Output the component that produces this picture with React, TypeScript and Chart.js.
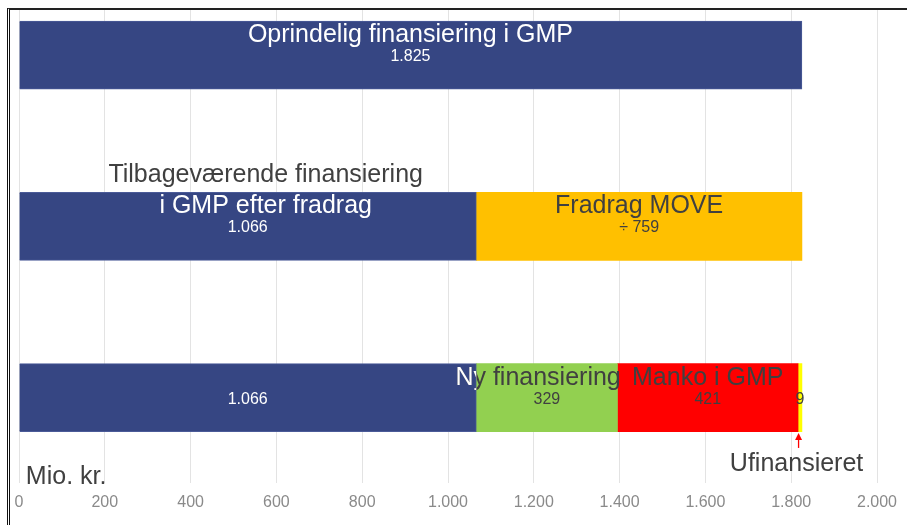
import React, { useEffect, useRef } from "react";
import { Chart, registerables } from "chart.js";

Chart.register(...registerables);

// ---- data ----
const categories = ["Oprindelig finansiering i GMP", "Efter fradrag", "Ny finansiering"];
const rowIndex = [0, 1, 2];
const gmpFinancing: (number | null)[] = [1825, 1066, 1066];
const moveDeduction: (number | null)[] = [null, 759, null];
const newFinancing: (number | null)[] = [null, null, 329];
const shortfall: (number | null)[] = [null, null, 421];
const unfinanced: (number | null)[] = [null, null, 9];
const xTicks = [0, 200, 400, 600, 800, 1000, 1200, 1400, 1600, 1800, 2000];

const NAVY = "#364683";
const ORANGE = "#FFC000";
const GREEN = "#92D050";
const RED = "#FF0000";
const YELLOW = "#FFFF00";
const DARK = "#404040";
const FONT = '"Liberation Sans", Arial, Helvetica, sans-serif';

const fmt = (v: number) => {
  const s = Math.round(Math.abs(v)).toString();
  return s.replace(/\B(?=(\d{3})+(?!\d))/g, ".");
};

const toPoints = (arr: (number | null)[]) =>
  rowIndex.map((r, i) => ({ x: arr[i], y: r }));

const labelPlugin = {
  id: "labels",
  afterDatasetsDraw(chart: any) {
    const { ctx, scales } = chart;
    const xs = scales.x;
    const ys = scales.y;
    const px = (v: number) => xs.getPixelForValue(v);
    const py = (v: number) => ys.getPixelForValue(v);
    const text = (t: string, x: number, y: number, size: number, color: string, align: CanvasTextAlign = "center") => {
      ctx.save();
      ctx.font = `${size}px ${FONT}`;
      ctx.fillStyle = color;
      ctx.textAlign = align;
      ctx.textBaseline = "alphabetic";
      ctx.fillText(t, x, y);
      ctx.restore();
    };
    const mid = (a: number, b: number) => (px(a) + px(b)) / 2;
    const T = 25;
    const V = 16;

    // Row 0
    const y0 = py(rowIndex[0]);
    text(categories[0], mid(0, gmpFinancing[0] as number), y0 - 13, T, "#ffffff");
    text(fmt(gmpFinancing[0] as number), mid(0, gmpFinancing[0] as number), y0 + 6, V, "#ffffff");

    // Row 1
    const y1 = py(rowIndex[1]);
    const b1 = gmpFinancing[1] as number;
    const m1 = moveDeduction[1] as number;
    text("Tilbageværende finansiering", px(575), y1 - 44, T, DARK);
    text("i GMP efter fradrag", px(575), y1 - 13, T, "#ffffff");
    text(fmt(b1), mid(0, b1), y1 + 6, V, "#ffffff");
    text("Fradrag MOVE", mid(b1, b1 + m1), y1 - 13, T, DARK);
    text("÷ " + fmt(m1), mid(b1, b1 + m1), y1 + 6, V, DARK);

    // Row 2
    const y2 = py(rowIndex[2]);
    const b2 = gmpFinancing[2] as number;
    const n2 = newFinancing[2] as number;
    const s2 = shortfall[2] as number;
    const u2 = unfinanced[2] as number;
    text(fmt(b2), mid(0, b2), y2 + 6, V, "#ffffff");
    // "Ny finansiering": dark, white where it overlaps the navy bar
    const nyX = px(1210);
    text("Ny finansiering", nyX, y2 - 13, T, DARK);
    ctx.save();
    ctx.beginPath();
    ctx.rect(px(0), y2 - 40, px(b2) - px(0), 60);
    ctx.clip();
    text("Ny finansiering", nyX, y2 - 13, T, "#ffffff");
    ctx.restore();
    text(fmt(n2), mid(b2, b2 + n2), y2 + 6, V, DARK);
    text("Manko i GMP", mid(b2 + n2, b2 + n2 + s2), y2 - 13, T, DARK);
    text(fmt(s2), mid(b2 + n2, b2 + n2 + s2), y2 + 6, V, DARK);
    const endS = b2 + n2 + s2;
    text(fmt(u2), mid(endS, endS + u2), y2 + 6, V, DARK);

    // arrow to unfinanced part
    const ax = px(endS) + 0.5;
    const tipY = py(rowIndex[2] + 0.206);
    ctx.save();
    ctx.strokeStyle = RED;
    ctx.fillStyle = RED;
    ctx.lineWidth = 1.3;
    ctx.beginPath();
    ctx.moveTo(ax, tipY + 15);
    ctx.lineTo(ax, tipY + 4);
    ctx.stroke();
    ctx.beginPath();
    ctx.moveTo(ax, tipY);
    ctx.lineTo(ax - 3.5, tipY + 7);
    ctx.lineTo(ax + 3.5, tipY + 7);
    ctx.closePath();
    ctx.fill();
    ctx.restore();
    text("Ufinansieret", ax - 2, tipY + 38, T, DARK);

    // unit
    text("Mio. kr.", px(16), chart.chartArea.bottom + 1, T, DARK, "left");
  },
};

export default function App() {
  const ref = useRef<HTMLCanvasElement>(null);
  useEffect(() => {
    if (!ref.current) return;
    const chart = new Chart(ref.current, {
      type: "bar",
      data: {
        datasets: [
          { label: "GMP", data: toPoints(gmpFinancing), backgroundColor: NAVY, borderColor: "#4b5b98", borderWidth: 1 },
          { label: "Fradrag MOVE", data: toPoints(moveDeduction), backgroundColor: ORANGE, borderWidth: 0 },
          { label: "Ny finansiering", data: toPoints(newFinancing), backgroundColor: GREEN, borderWidth: 0 },
          { label: "Manko i GMP", data: toPoints(shortfall), backgroundColor: RED, borderWidth: 0 },
          { label: "Ufinansieret", data: toPoints(unfinanced), backgroundColor: YELLOW, borderWidth: 0 },
        ] as any,
      },
      options: {
        indexAxis: "y",
        animation: false,
        responsive: false,
        maintainAspectRatio: false,
        parsing: { xAxisKey: "x", yAxisKey: "y" } as any,
        datasets: { bar: { barThickness: 68 } } as any,
        layout: { padding: { left: 9, right: 30, top: 0, bottom: 13 } },
        plugins: { legend: { display: false }, tooltip: { enabled: false }, title: { display: false } },
        scales: {
          x: {
            type: "linear",
            stacked: true,
            min: xTicks[0],
            max: xTicks[xTicks.length - 1],
            afterBuildTicks: (axis: any) => {
              axis.ticks = xTicks.map((v) => ({ value: v }));
            },
            grid: {
              color: "#e3e3e3",
              lineWidth: 1,
              drawTicks: true,
              tickLength: 10,
              tickColor: "rgba(0,0,0,0)",
            },
            border: { display: false },
            ticks: {
              color: "#8a8a8a",
              font: { family: FONT, size: 16 },
              padding: 0,
              callback: (v: any) => fmt(Number(v)),
            },
          },
          y: {
            type: "linear",
            stacked: true,
            reverse: true,
            display: false,
            offset: false,
            grid: { offset: false },
            min: -0.263,
            max: 2.497,
          },
        },
      } as any,
      plugins: [labelPlugin],
    });
    return () => chart.destroy();
  }, []);

  return (
    <div
      style={{
        position: "fixed",
        left: 7,
        top: 8,
        borderTop: "2px solid #222",
        borderLeft: "3px double #111",
        background: "#ffffff",
        lineHeight: 0,
      }}
    >
      <canvas ref={ref} width={897} height={515} style={{ width: 897, height: 515, display: "block" }} />
    </div>
  );
}
